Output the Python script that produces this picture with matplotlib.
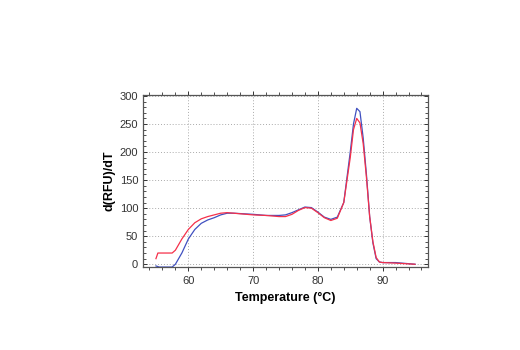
import numpy as np
import matplotlib.pyplot as plt
from matplotlib.ticker import MultipleLocator

# melt curve readings, temperature in deg C
temp_red = [55.0, 55.3, 57.5, 58.0, 59.0, 60.0, 61.0, 62.0, 63.0, 64.0, 65.0, 66.0, 67.0, 68.0,
            70.0, 72.0, 74.0, 75.0, 76.0, 77.0, 78.0, 79.0, 80.0, 81.0, 82.0, 83.0, 84.0,
            85.0, 85.5, 86.0, 86.5, 87.0, 87.5, 88.0, 88.5, 89.0, 89.5, 90.0, 92.0, 95.0]
rfu_red = [10, 20, 20, 25, 45, 62, 74, 81, 85, 88, 91, 92, 91, 90,
           88, 87, 85, 85, 89, 96, 101, 100, 92, 83, 78, 82, 110,
           190, 240, 260, 252, 215, 155, 85, 40, 12, 4, 3, 2, 0]

temp_blue = [55.0, 55.5, 57.5, 58.0, 59.0, 60.0, 61.0, 62.0, 63.0, 64.0, 65.0, 66.0, 67.0,
             70.0, 72.0, 74.0, 75.0, 76.0, 77.0, 78.0, 79.0, 80.0, 81.0, 82.0, 83.0, 84.0,
             85.0, 85.5, 86.0, 86.5, 87.0, 87.5, 88.0, 88.5, 89.0, 89.5, 90.0, 92.0, 95.0]
rfu_blue = [-3, -5, -5, 0, 20, 45, 62, 73, 79, 83, 88, 91, 91,
            89, 87, 87, 88, 92, 97, 102, 101, 93, 84, 80, 84, 110,
            200, 250, 278, 272, 225, 160, 85, 38, 10, 4, 3, 3, 0]

plt.rcParams['font.family'] = ['Liberation Sans', 'DejaVu Sans']

fig = plt.figure(figsize=(5.2, 3.5), dpi=100)
ax = fig.add_axes([0.275, 0.237, 0.548, 0.492])

ax.plot(temp_blue, rfu_blue, color='#4050c0', lw=0.9)
ax.plot(temp_red, rfu_red, color='#f5304a', lw=0.9)

ax.set_xlim(53, 97)
ax.set_ylim(-5, 302)
ax.xaxis.set_major_locator(MultipleLocator(10))
ax.xaxis.set_minor_locator(MultipleLocator(2))
ax.yaxis.set_major_locator(MultipleLocator(50))
ax.yaxis.set_minor_locator(MultipleLocator(10))
ax.grid(True, which='major', color='#aaaaaa', linestyle=(0, (1, 2)), lw=0.7)

for s in ax.spines.values():
    s.set_color('#555555')
    s.set_linewidth(0.9)

ax.tick_params(axis='x', which='both', direction='out', top=True, colors='#333333', labelsize=8)
ax.tick_params(axis='y', which='both', direction='in', right=True, colors='#333333', labelsize=8)
ax.tick_params(which='major', length=3, width=0.7)
ax.tick_params(which='minor', length=2, width=0.6)

ax.set_xlabel('Temperature (°C)', fontsize=9, fontweight='bold', labelpad=4)
ax.set_ylabel('d(RFU)/dT', fontsize=9, fontweight='bold', labelpad=3)

fig.savefig('out.png', dpi=100)
